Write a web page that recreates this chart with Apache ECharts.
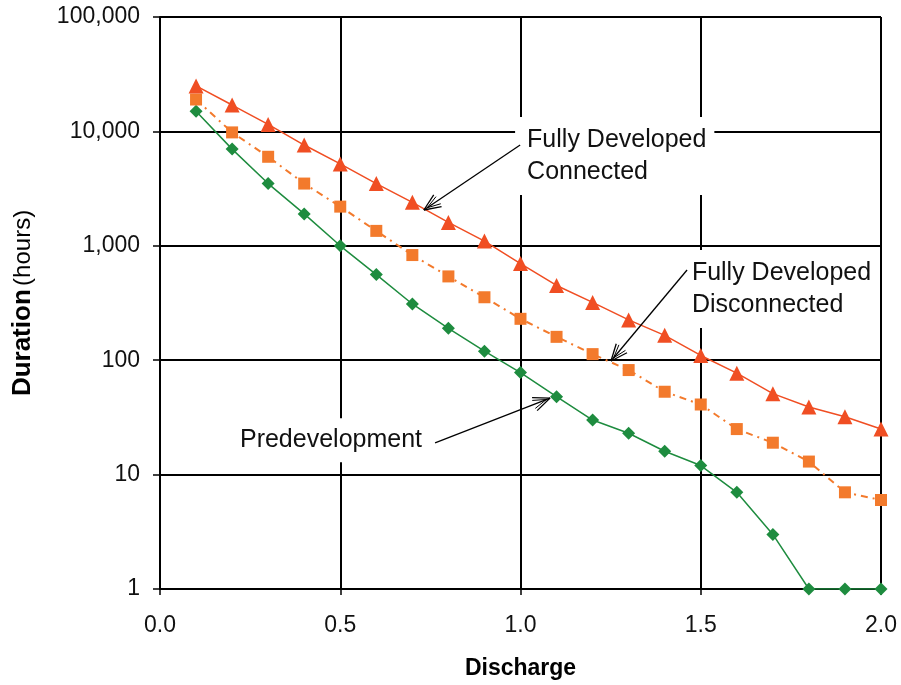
<!DOCTYPE html>
<html>
<head>
<meta charset="utf-8">
<script src="https://cdn.jsdelivr.net/npm/echarts@6/dist/echarts.min.js"></script>
<style>
html,body{margin:0;padding:0;background:#fff;}
#chart{width:901px;height:685px;}
</style>
</head>
<body>
<div id="chart"></div>
<script>
// ---- Data ----
var discharge = [0.1,0.2,0.3,0.4,0.5,0.6,0.7,0.8,0.9,1.0,1.1,1.2,1.3,1.4,1.5,1.6,1.7,1.8,1.9,2.0];
var connected = [25000,17000,11500,7600,5200,3500,2400,1600,1100,700,450,320,225,165,110,77,51,39,32,25];
var disconnected = [19000,9800,6000,3500,2200,1350,830,540,355,230,160,113,82,53,41,25,19,13,7,6];
var predevelopment = [15000,7000,3500,1900,1000,560,310,190,120,78,48,30,23,16,12,7,3,1,1,1];
var xTicks = [0.0,0.5,1.0,1.5,2.0];
var yTicks = [1,10,100,1000,10000,100000];

// annotation anchors (data space)
var annConnected = {text:'Fully Developed\nConnected', at:[0.985,6100], from:[0.999,7600], to:[0.732,2056], align:'left'};
var annDisconnected = {text:'Fully Developed\nDisconnected', at:[1.456,419], from:[1.462,614], to:[1.251,98.4], align:'left'};
var annPredev = {text:'Predevelopment', at:[0.749,20], from:[0.763,18.9], to:[1.082,46.7], align:'right'};

function pairs(ys){ return discharge.map(function(x,i){ return [x, ys[i]]; }); }

var FONT = "'Liberation Sans', Arial, sans-serif";
var chart = echarts.init(document.getElementById('chart'), null, {renderer:'canvas'});

var option = {
  animation:false,
  backgroundColor:'#fff',
  grid:{left:160,right:20,top:17,bottom:96,containLabel:false},
  xAxis:{
    type:'value', min:xTicks[0], max:xTicks[xTicks.length-1], interval:0.5,
    name:'Discharge', nameLocation:'middle', nameGap:68,
    nameTextStyle:{fontFamily:FONT, fontWeight:'bold', fontSize:23, color:'#000'},
    axisLine:{show:true, onZero:false, lineStyle:{color:'#000', width:2}},
    axisTick:{show:true, length:6, lineStyle:{color:'#000', width:1.5}},
    axisLabel:{fontFamily:FONT, fontSize:23, color:'#111', margin:25,
      formatter:function(v){ return v.toFixed(1); }},
    splitLine:{show:true, lineStyle:{color:'#000', width:2}}
  },
  yAxis:{
    type:'log', logBase:10, min:yTicks[0], max:yTicks[yTicks.length-1],
    name:'{b|Duration} {n|(hours)}', nameLocation:'middle', nameGap:124, nameRotate:90,
    nameTextStyle:{rich:{
      b:{fontFamily:FONT, fontWeight:'bold', fontSize:26, color:'#000'},
      n:{fontFamily:FONT, fontSize:24, color:'#000'}
    }},
    axisLine:{show:true, lineStyle:{color:'#000', width:2}},
    axisTick:{show:true, length:7, lineStyle:{color:'#000', width:1.5}},
    axisLabel:{fontFamily:FONT, fontSize:23, color:'#111', margin:20,
      formatter:function(v){ return Math.round(v).toLocaleString('en-US'); }},
    splitLine:{show:true, lineStyle:{color:'#000', width:2}},
    minorTick:{show:false}, minorSplitLine:{show:false}
  },
  series:[
    {name:'Predevelopment', type:'line', data:pairs(predevelopment),
     symbol:'diamond', symbolSize:13, color:'#1E8C3F',
     lineStyle:{color:'#1E8C3F', width:1.5}, itemStyle:{color:'#1E8C3F'}, z:3},
    {name:'Fully Developed Disconnected', type:'line', data:pairs(disconnected),
     symbol:'rect', symbolSize:12, color:'#F37A2C',
     lineStyle:{color:'#F37A2C', width:2, type:[7,5,2,5]}, itemStyle:{color:'#F37A2C'}, z:4},
    {name:'Fully Developed Connected', type:'line', data:pairs(connected),
     symbol:'triangle', symbolSize:15, color:'#F04E23',
     lineStyle:{color:'#F04E23', width:1.5}, itemStyle:{color:'#F04E23'}, z:5}
  ]
};
chart.setOption(option);

function px(p){ return chart.convertToPixel({gridIndex:0}, p); }

function annotationElements(a, padding){
  var at = px(a.at), f = px(a.from), t = px(a.to);
  var els = [];
  els.push({
    type:'text', x:at[0], y:at[1], z:50,
    style:{text:a.text, fontFamily:FONT, fontSize:25, lineHeight:32, fill:'#111',
      align:a.align, verticalAlign:'middle', backgroundColor:'#fff', padding:padding}
  });
  els.push({type:'line', z:51, shape:{x1:f[0],y1:f[1],x2:t[0],y2:t[1]},
    style:{stroke:'#000', lineWidth:1.3}});
  var ang = Math.atan2(f[1]-t[1], f[0]-t[0]);
  var L = 18, spread = 0.4;
  [spread, -spread].forEach(function(s){
    els.push({type:'line', z:51, shape:{x1:t[0], y1:t[1],
      x2:t[0]+L*Math.cos(ang+s), y2:t[1]+L*Math.sin(ang+s)},
      style:{stroke:'#000', lineWidth:1.3}});
  });
  [spread*0.6, -spread*0.6].forEach(function(s){
    els.push({type:'line', z:51, shape:{x1:t[0]+4*Math.cos(ang), y1:t[1]+4*Math.sin(ang),
      x2:t[0]+L*Math.cos(ang+s), y2:t[1]+L*Math.sin(ang+s)},
      style:{stroke:'#000', lineWidth:1}});
  });
  return els;
}

var g = [].concat(
  annotationElements(annConnected, [7,8,7,12]),
  annotationElements(annDisconnected, [7,6,7,7]),
  annotationElements(annPredev, [6,8,6,10])
);
chart.setOption({graphic:{elements:g}});
</script>
</body>
</html>
